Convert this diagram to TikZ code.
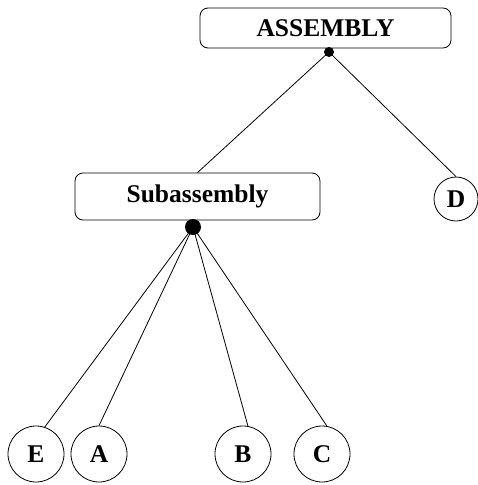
\documentclass[tikz,border=0pt]{standalone}
\usepackage{fontspec}
\setmainfont{Liberation Serif}
\begin{document}
\begin{tikzpicture}[x=1pt,y=-1pt,font=\fontsize{25.5}{30}\selectfont\bfseries,
  box/.style={draw,rounded corners=8pt,inner sep=0pt},
  part/.style={draw,circle,inner sep=0pt,minimum size=56pt}]
\useasboundingbox (0,0) rectangle (478,485);

\begin{scope}[line width=.8pt]
\node[box,minimum width=251pt,minimum height=40pt] (assembly) at (325.5,28) {ASSEMBLY};
\node[box,minimum width=245pt,minimum height=47pt] (sub) at (197.5,196.5) {Subassembly};
\node[part,minimum size=44pt] (d) at (456,199) {D};

\node[part] (e) at (36,454) {E};
\node[part] (a) at (99,454) {A};
\node[part] (b) at (243,454) {B};
\node[part] (c) at (322,454) {C};

\coordinate (pa) at (329,52);
\coordinate (ps) at (193,227);

\draw (pa) -- (sub.north);
\draw (pa) -- (d.north);

\draw (ps) -- (e.72);
\draw (ps) -- (a.90);
\draw (ps) -- (b.80);
\draw (ps) -- (c.80);

\fill (pa) circle (5);
\fill (ps) circle (8);
\end{scope}

\end{tikzpicture}
\end{document}
